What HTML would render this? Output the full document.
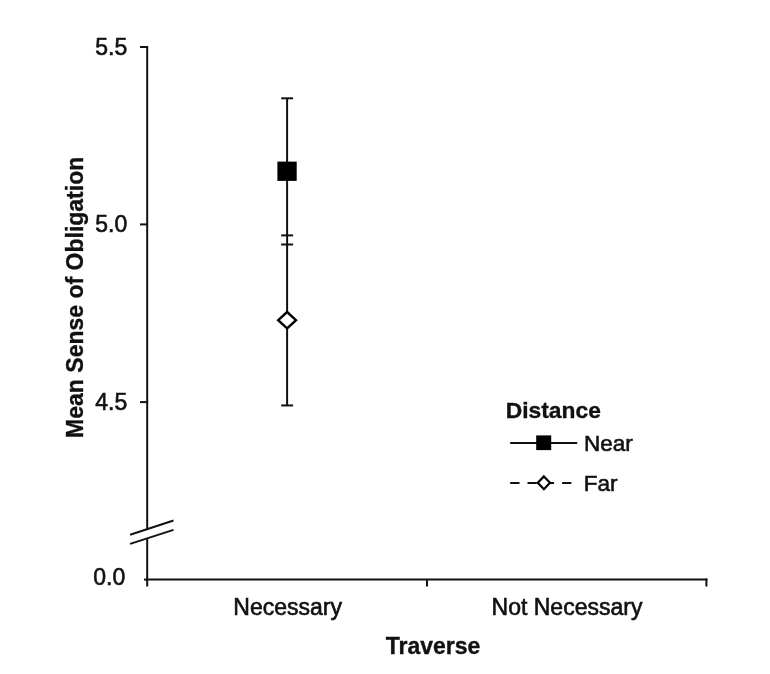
<!DOCTYPE html>
<html><head><meta charset="utf-8">
<style>
html,body{margin:0;padding:0;background:#fff;}
body{width:770px;height:674px;overflow:hidden;}
svg{display:block;filter:blur(0.45px);}
text{font-family:"Liberation Sans",sans-serif;fill:#111;stroke:#111;stroke-width:0.6px;}
.b{font-weight:bold;stroke-width:0.35px;}
</style></head>
<body>
<svg width="770" height="674" viewBox="0 0 770 674">
<rect width="770" height="674" fill="#fff"/>
<g stroke="#111" stroke-width="2" fill="none" stroke-linecap="butt">
  <!-- y axis -->
  <line x1="147.2" y1="46" x2="147.2" y2="586.5"/>
  <!-- y ticks -->
  <line x1="140" y1="47" x2="148" y2="47"/>
  <line x1="140" y1="224.4" x2="148" y2="224.4"/>
  <line x1="140" y1="402.1" x2="148" y2="402.1"/>
  <line x1="144" y1="579.6" x2="148" y2="579.6"/>
  <!-- x axis -->
  <line x1="146.2" y1="579.6" x2="707.4" y2="579.6"/>
  <line x1="427" y1="579.6" x2="427" y2="586.5"/>
  <line x1="706.4" y1="578.6" x2="706.4" y2="586.5"/>
</g>
<!-- axis break -->
<polygon points="128,536 176,520 176,530 128,545" fill="#fff"/>
<g stroke="#111" stroke-width="2" fill="none">
  <line x1="130.1" y1="534.8" x2="173.5" y2="520.5"/>
  <line x1="130.1" y1="543.9" x2="173.5" y2="529.9"/>
</g>
<!-- error bars -->
<g stroke="#111" stroke-width="2" fill="none">
  <line x1="287.1" y1="98.3" x2="287.1" y2="405.45"/>
  <line x1="281.2" y1="98.3" x2="293.1" y2="98.3"/>
  <line x1="281.2" y1="244.5" x2="293.1" y2="244.5"/>
  <line x1="281.2" y1="235.4" x2="293.1" y2="235.4"/>
  <line x1="281.2" y1="405.45" x2="293.1" y2="405.45"/>
</g>
<rect x="277.4" y="161.6" width="19.3" height="19.3" fill="#000"/>
<polygon points="287.1,312 296,320.2 287.1,328.4 278.2,320.2" fill="#fff" stroke="#000" stroke-width="2.4"/>
<!-- legend -->
<g stroke="#111" stroke-width="2" fill="none">
  <line x1="510.2" y1="442.9" x2="577.2" y2="442.9"/>
  <line x1="510.2" y1="482.9" x2="571.7" y2="482.9" stroke-dasharray="9.3 8"/>
</g>
<rect x="536.2" y="435.4" width="15" height="14.7" fill="#000"/>
<polygon points="543.9,476.4 550,482.8 543.9,489.2 537.8,482.8" fill="#fff" stroke="#000" stroke-width="2.2"/>
<!-- text -->
<text x="127.3" y="55.1" font-size="23" text-anchor="end">5.5</text>
<text x="127.3" y="232.3" font-size="23" text-anchor="end">5.0</text>
<text x="127.3" y="409.5" font-size="23" text-anchor="end">4.5</text>
<text x="125.2" y="585.4" font-size="23" text-anchor="end">0.0</text>
<text x="287.6" y="614.9" font-size="23" text-anchor="middle">Necessary</text>
<text x="567" y="614.9" font-size="23" text-anchor="middle">Not Necessary</text>
<text x="433.1" y="653.9" font-size="23" class="b" text-anchor="middle">Traverse</text>
<text transform="translate(83.2,297.3) rotate(-90)" font-size="23" class="b" text-anchor="middle">Mean Sense of Obligation</text>
<text x="505.8" y="418" font-size="22.8" class="b">Distance</text>
<text x="583.9" y="450.5" font-size="22.5">Near</text>
<text x="583.8" y="490.5" font-size="22.5">Far</text>
</svg>
</body></html>
